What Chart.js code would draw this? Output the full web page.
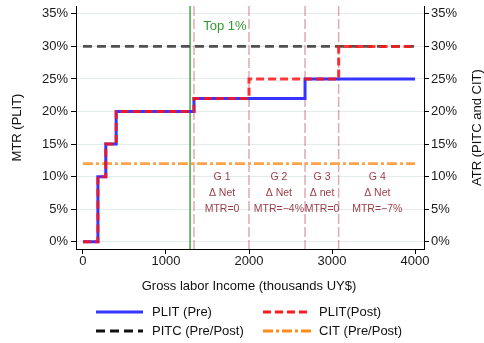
<!DOCTYPE html>
<html><head><meta charset="utf-8">
<script src="https://cdn.jsdelivr.net/npm/chart.js@4/dist/chart.umd.min.js"></script>
<style>html,body{margin:0;padding:0;background:#fff}#wrap{width:484px;height:343px;position:relative}</style>
</head><body><div id="wrap"><canvas id="c" width="484" height="343"></canvas></div>
<script>
// Marginal tax rate schedules (PLIT) before and after the reform, by gross labor income
const incomeBreaksPre = [0, 180, 275, 400, 1337, 2675, 4000];
const mtrPre = [0, 10, 15, 20, 22, 25, 25];
const incomeBreaksPost = [0, 180, 275, 400, 1337, 2000, 3080, 4000];
const mtrPost = [0, 10, 15, 20, 22, 25, 30, 30];
// Average tax rates (PITC and CIT)
const atrIncome = [0, 4000];
const pitcRate = [30, 30];
const citRate = [12, 12];
// Reference markers
const top1Income = 1290;
const top1Label = "Top 1%";
const groupBounds = [1337, 2000, 2675, 3080];
const groupCenters = [1675, 2360, 2880, 3545];
const groupText = [
  ["G 1", "\u0394 Net", "MTR=0"],
  ["G 2", "\u0394 Net", "MTR=\u22124%"],
  ["G 3", "\u0394 net", "MTR=0"],
  ["G 4", "\u0394 Net", "MTR=\u22127%"]
];
const groupTextRows = [10, 7.5, 5];
const xTicks = [0, 1000, 2000, 3000, 4000];
const yTicks = [0, 5, 10, 15, 20, 25, 30, 35];
const legendLabels = ["PLIT (Pre)", "PLIT(Post)", "PITC (Pre/Post)", "CIT (Pre/Post)"];

const FONT = '"Liberation Sans", Arial, Helvetica, sans-serif';
const pts = (xs, ys) => xs.map((x, i) => ({x: x, y: ys[i]}));

const styles = {
  pre:  {color: '#3535ff', width: 3, dash: []},
  post: {color: 'rgba(255,20,20,0.85)', width: 3, dash: [8, 4]},
  pitc: {color: '#505050', width: 2.6, dash: [9, 5]},
  cit:  {color: '#ffa24a', width: 2.6, dash: [10, 3, 3, 3]}
};

const markers = {
  id: 'markers',
  beforeDatasetsDraw(chart) {
    const {ctx, chartArea: a, scales: {x}} = chart;
    ctx.save();
    ctx.lineWidth = 1.5;
    ctx.strokeStyle = 'rgba(205,125,135,0.65)';
    ctx.setLineDash([10, 3]);
    groupBounds.forEach(v => {
      const px = x.getPixelForValue(v);
      ctx.beginPath(); ctx.moveTo(px, a.top); ctx.lineTo(px, a.bottom); ctx.stroke();
    });
    ctx.setLineDash([]);
    ctx.strokeStyle = '#45a545';
    ctx.lineWidth = 1.5;
    const gx = x.getPixelForValue(top1Income);
    ctx.beginPath(); ctx.moveTo(gx, a.top); ctx.lineTo(gx, a.bottom); ctx.stroke();
    ctx.restore();
  },
  afterDatasetsDraw(chart) {
    const {ctx, scales: {x, y}} = chart;
    ctx.save();
    ctx.textAlign = 'center';
    ctx.textBaseline = 'middle';
    ctx.fillStyle = '#2f9a2f';
    ctx.font = '13px ' + FONT;
    ctx.fillText(top1Label, x.getPixelForValue(1710), y.getPixelForValue(33.1));
    ctx.fillStyle = '#9c3e48';
    ctx.font = '10.5px ' + FONT;
    groupText.forEach((lines, i) => {
      lines.forEach((t, j) => {
        ctx.fillText(t, x.getPixelForValue(groupCenters[i]), y.getPixelForValue(groupTextRows[j]));
      });
    });
    ctx.restore();
  },
  afterDraw(chart) {
    const {ctx, chartArea: a} = chart;
    ctx.save();
    ctx.fillStyle = '#111';
    ctx.font = '13px ' + FONT;
    ctx.textAlign = 'center';
    ctx.textBaseline = 'middle';
    ctx.fillText('Gross labor Income (thousands UY$)', 249, 286);
    const cy = (a.top + a.bottom) / 2;
    ctx.save(); ctx.translate(17, cy); ctx.rotate(-Math.PI / 2);
    ctx.fillText('MTR (PLIT)', 0, 0); ctx.restore();
    ctx.save(); ctx.translate(477, cy); ctx.rotate(-Math.PI / 2);
    ctx.fillText('ATR (PITC and CIT)', 0, 0); ctx.restore();
    // legend
    const keys = ['pre', 'post', 'pitc', 'cit'];
    const cols = [[96, 143, 152], [263, 311, 319]];
    const rows = [312, 331];
    const legendColors = {pre: '#3535ff', post: '#ff1a1a', pitc: '#111', cit: '#ff8c1a'};
    keys.forEach((k, i) => {
      const c = cols[i % 2], r = rows[Math.floor(i / 2)];
      ctx.strokeStyle = legendColors[k];
      ctx.lineWidth = 3;
      ctx.setLineDash(styles[k].dash);
      ctx.beginPath(); ctx.moveTo(c[0], r); ctx.lineTo(c[1], r); ctx.stroke();
      ctx.setLineDash([]);
      ctx.textAlign = 'left';
      ctx.fillStyle = '#111';
      ctx.fillText(legendLabels[i], c[2], r + 0.5);
    });
    ctx.restore();
  }
};

const lineDs = (data, s, axis, order) => ({
  data: data, borderColor: s.color, borderWidth: s.width, borderDash: s.dash,
  pointRadius: 0, fill: false, yAxisID: axis, order: order, tension: 0
});

const noPadY = s => { s.paddingTop = 0; s.paddingBottom = 0; };

new Chart(document.getElementById('c'), {
  type: 'line',
  data: {
    datasets: [
      Object.assign(lineDs(pts(incomeBreaksPost, mtrPost), styles.post, 'y', 0), {stepped: 'before'}),
      Object.assign(lineDs(pts(incomeBreaksPre, mtrPre), styles.pre, 'y', 1), {stepped: 'before'}),
      lineDs(pts(atrIncome, pitcRate), styles.pitc, 'y2', 2),
      lineDs(pts(atrIncome, citRate), styles.cit, 'y2', 3)
    ]
  },
  options: {
    responsive: false,
    animation: false,
    devicePixelRatio: 1,
    layout: {padding: {top: 6, left: 0, right: 0, bottom: 0}},
    plugins: {legend: {display: false}, tooltip: {enabled: false}},
    scales: {
      x: {
        type: 'linear', min: -84, max: 4108,
        afterBuildTicks: s => { s.ticks = xTicks.map(v => ({value: v})); },
        afterFit: s => { s.height = 94; s.paddingLeft = 0; s.paddingRight = 0; },
        grid: {drawOnChartArea: false, tickLength: 5, tickColor: '#000'},
        border: {color: '#000', width: 1},
        ticks: {padding: 0, color: '#1a1a1a', font: {size: 13, family: FONT}, callback: v => String(v), maxRotation: 0}
      },
      y: {
        position: 'left', min: -1.1, max: 36.2,
        afterBuildTicks: s => { s.ticks = yTicks.map(v => ({value: v})); },
        afterFit: s => { s.width = 76; noPadY(s); },
        grid: {color: '#e3ebec', tickLength: 5, tickColor: '#000'},
        border: {color: '#000', width: 1},
        ticks: {padding: 3, color: '#1a1a1a', font: {size: 13, family: FONT}, callback: v => v + '%'}
      },
      y2: {
        position: 'right', min: -1.1, max: 36.2,
        afterBuildTicks: s => { s.ticks = yTicks.map(v => ({value: v})); },
        afterFit: s => { s.width = 60; noPadY(s); },
        grid: {drawOnChartArea: false, tickLength: 5, tickColor: '#000'},
        border: {color: '#000', width: 1},
        ticks: {padding: 2, color: '#1a1a1a', font: {size: 13, family: FONT}, callback: v => v + '%'}
      }
    }
  },
  plugins: [markers]
});
</script>
</body></html>
